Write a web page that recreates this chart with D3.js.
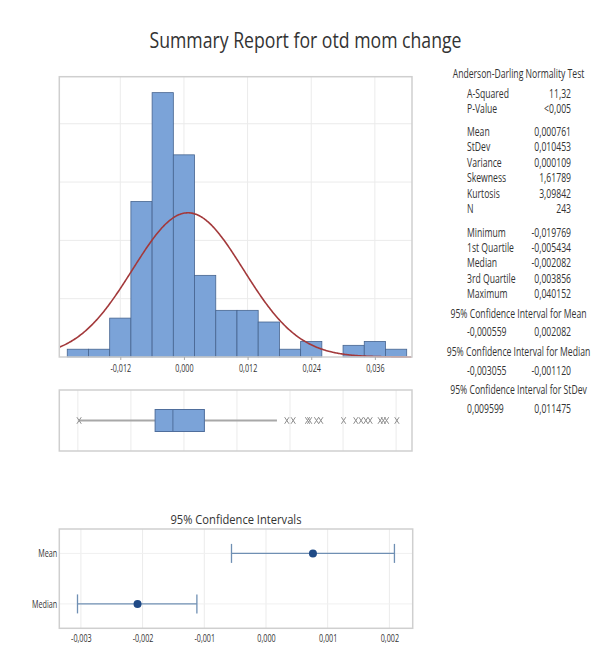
<!DOCTYPE html>
<html><head><meta charset="utf-8">
<script src="https://cdn.jsdelivr.net/npm/d3@7"></script>
<style>body{margin:0;background:#fff;} svg{display:block;font-family:"Open Sans",sans-serif;}</style>
</head><body><svg id="c" width="606" height="657"></svg>
<script>
// ---------- data ----------
const binLower = [-0.022,-0.018,-0.014,-0.010,-0.006,-0.002,0.002,0.006,0.010,0.014,0.018,0.022,0.026,0.030,0.034,0.038];
const binCounts = [2,2,10,40,68,52,21,12,12,9,2,4,0,3,4,2];
const histTicks = [-0.012,0,0.012,0.024,0.036];
const histGridCounts = [15,30,45,60];
const fitMean = 0.000761, fitStDev = 0.010453, sampleN = 243;
const boxFive = [-0.019769,-0.005434,-0.002082,0.003856,0.01754]; // low whisker, Q1, median, Q3, high whisker
const outliers = [0.0194,0.0206,0.0233,0.0237,0.0250,0.0258,0.0301,0.0324,0.0334,0.0343,0.0351,0.0370,0.0376,0.0382,0.040152];
const boxGrid = [-0.02,-0.01,0,0.01,0.02,0.03,0.04];
const ciCategories = ["Mean","Median"];
const ciEst = [0.000761,-0.002082];
const ciLow = [-0.000559,-0.003055];
const ciHigh = [0.002082,-0.001120];
const ciTicks = [-0.003,-0.002,-0.001,0,0.001,0.002];
const adLabels = ["A-Squared","P-Value"], adValues = ["11,32","<0,005"];
const momentLabels = ["Mean","StDev","Variance","Skewness","Kurtosis","N"];
const momentValues = ["0,000761","0,010453","0,000109","1,61789","3,09842","243"];
const quantLabels = ["Minimum","1st Quartile","Median","3rd Quartile","Maximum"];
const quantValues = ["-0,019769","-0,005434","-0,002082","0,003856","0,040152"];
const ciHeaders = ["95% Confidence Interval for Mean","95% Confidence Interval for Median","95% Confidence Interval for StDev"];
const ciTableLow = ["-0,000559","-0,003055","0,009599"];
const ciTableHigh = ["0,002082","-0,001120","0,011475"];

// ---------- setup ----------
const svg = d3.select("#c");
const loc = d3.formatLocale({decimal:",",thousands:".",grouping:[3],currency:["","€"],minus:"-"});
const f3 = loc.format(".3f");
const TXT = "#333";
const GRID = "#ebebeb", FRAME = "#cfcfcf";
const SX = 0.72; // horizontal compression of the small text

svg.append("text").attr("x",305.5).attr("y",47.7).attr("text-anchor","middle")
  .attr("font-size",22).attr("fill",TXT).attr("textLength",312).attr("lengthAdjust","spacingAndGlyphs")
  .text("Summary Report for otd mom change");

// ---------- histogram ----------
const H = {l:59.3,r:412,t:76.7,b:357};
const xH = d3.scaleLinear().domain([-0.0235,0.0430]).range([H.l,H.r]);
const yH = d3.scaleLinear().domain([0,72.1]).range([H.b,H.t]);
const binW = binLower[1]-binLower[0];
const gH = svg.append("g");
gH.selectAll(".hg").data(histGridCounts).enter().append("line")
  .attr("x1",H.l).attr("x2",H.r).attr("y1",d=>yH(d)).attr("y2",d=>yH(d)).attr("stroke",GRID);
gH.selectAll(".vg").data(histTicks).enter().append("line")
  .attr("x1",d=>xH(d)).attr("x2",d=>xH(d)).attr("y1",H.t).attr("y2",H.b).attr("stroke",GRID);
gH.selectAll("rect.bar").data(binLower).enter().append("rect").attr("class","bar")
  .attr("x",d=>xH(d)).attr("width",d=>xH(d+binW)-xH(d))
  .attr("y",(d,i)=>yH(binCounts[i])).attr("height",(d,i)=>yH(0)-yH(binCounts[i]))
  .attr("fill","#7ba3d8").attr("stroke","#46648f").attr("stroke-width",0.8);
const pdf = x => Math.exp(-0.5*Math.pow((x-fitMean)/fitStDev,2))/(fitStDev*Math.sqrt(2*Math.PI));
const curveX = d3.range(xH.domain()[0], xH.domain()[1], 0.0002);
gH.append("path").datum(curveX)
  .attr("d", d3.line().x(d=>xH(d)).y(d=>yH(sampleN*binW*pdf(d))).curve(d3.curveBasis))
  .attr("fill","none").attr("stroke","#a3393b").attr("stroke-width",1.6);
gH.append("rect").attr("x",H.l).attr("y",H.t).attr("width",H.r-H.l).attr("height",H.b-H.t)
  .attr("fill","none").attr("stroke",FRAME).attr("stroke-width",1.5);
const axH = gH.append("g").attr("transform",`translate(0,${H.b})`)
  .call(d3.axisBottom(xH).tickValues(histTicks).tickFormat(f3).tickSize(3).tickPadding(5));
axH.select(".domain").remove();
axH.selectAll("line").attr("stroke","#aaa");
axH.selectAll("text").attr("font-size",10).attr("fill",TXT).attr("font-family","Open Sans").attr("transform",`scale(${SX},1)`);

// ---------- boxplot ----------
const B = {t:390,b:451};
const yB = (B.t+B.b)/2;
const gB = svg.append("g");
gB.selectAll("line.bg").data(boxGrid).enter().append("line")
  .attr("x1",d=>xH(d)).attr("x2",d=>xH(d)).attr("y1",B.t).attr("y2",B.b).attr("stroke",GRID);
gB.append("line").attr("x1",xH(boxFive[0])).attr("x2",xH(boxFive[1])).attr("y1",yB).attr("y2",yB).attr("stroke","#a8a8a8").attr("stroke-width",2);
gB.append("line").attr("x1",xH(boxFive[3])).attr("x2",xH(boxFive[4])).attr("y1",yB).attr("y2",yB).attr("stroke","#a8a8a8").attr("stroke-width",2);
gB.append("rect").attr("x",xH(boxFive[1])).attr("width",xH(boxFive[3])-xH(boxFive[1]))
  .attr("y",yB-11).attr("height",22).attr("fill","#7ba3d8").attr("stroke","#4f6e9c").attr("stroke-width",1);
gB.append("line").attr("x1",xH(boxFive[2])).attr("x2",xH(boxFive[2])).attr("y1",yB-11).attr("y2",yB+11).attr("stroke","#4f6e9c");
const xMark = "M-2.2,-3.3L2.2,3.3M-2.2,3.3L2.2,-3.3";
gB.selectAll("path.o").data([boxFive[0]].concat(outliers)).enter().append("path")
  .attr("d",xMark).attr("transform",d=>`translate(${xH(d)},${yB})`).attr("stroke","#8f8f8f").attr("stroke-width",1).attr("fill","none");
gB.append("rect").attr("x",H.l).attr("y",B.t).attr("width",H.r-H.l).attr("height",B.b-B.t)
  .attr("fill","none").attr("stroke",FRAME).attr("stroke-width",1.5);

// ---------- confidence intervals ----------
const C = {l:59.3,r:412.7,t:529,b:628.3};
const xC = d3.scaleLinear().domain([-0.00335,0.002378]).range([C.l,C.r]);
const yC = d3.scalePoint().domain(ciCategories).range([C.t,C.b]).padding(0.483);
const gC = svg.append("g");
gC.append("text").attr("x",(C.l+C.r)/2).attr("y",524).attr("text-anchor","middle").attr("font-size",13)
  .attr("fill",TXT).attr("textLength",131).attr("lengthAdjust","spacingAndGlyphs").text("95% Confidence Intervals");
gC.selectAll("line.cv").data(ciTicks).enter().append("line")
  .attr("x1",d=>xC(d)).attr("x2",d=>xC(d)).attr("y1",C.t).attr("y2",C.b).attr("stroke",GRID);
gC.selectAll("line.ch").data(ciCategories).enter().append("line")
  .attr("x1",C.l).attr("x2",C.r).attr("y1",d=>yC(d)).attr("y2",d=>yC(d)).attr("stroke","#f0f0f0");
const ciG = gC.selectAll("g.ci").data(ciCategories).enter().append("g").attr("transform",d=>`translate(0,${yC(d)})`);
ciG.append("line").attr("x1",(d,i)=>xC(ciLow[i])).attr("x2",(d,i)=>xC(ciHigh[i])).attr("stroke","#6f8fb3").attr("stroke-width",1.3);
ciG.append("line").attr("x1",(d,i)=>xC(ciLow[i])).attr("x2",(d,i)=>xC(ciLow[i])).attr("y1",-9.5).attr("y2",9.5).attr("stroke","#6f8fb3").attr("stroke-width",1.3);
ciG.append("line").attr("x1",(d,i)=>xC(ciHigh[i])).attr("x2",(d,i)=>xC(ciHigh[i])).attr("y1",-9.5).attr("y2",9.5).attr("stroke","#6f8fb3").attr("stroke-width",1.3);
ciG.append("circle").attr("cx",(d,i)=>xC(ciEst[i])).attr("r",4).attr("fill","#1f4a86");
gC.append("rect").attr("x",C.l).attr("y",C.t).attr("width",C.r-C.l).attr("height",C.b-C.t)
  .attr("fill","none").attr("stroke",FRAME).attr("stroke-width",1.5);
const axC = gC.append("g").attr("transform",`translate(0,${C.b})`)
  .call(d3.axisBottom(xC).tickValues(ciTicks).tickFormat(f3).tickSize(0).tickPadding(7));
axC.select(".domain").remove();
axC.selectAll("text").attr("font-size",10).attr("fill",TXT).attr("font-family","Open Sans").attr("transform",`scale(${SX},1)`);
const ayC = gC.append("g").attr("transform",`translate(${C.l},0)`)
  .call(d3.axisLeft(yC).tickSize(0).tickPadding(3));
ayC.select(".domain").remove();
ayC.selectAll("text").attr("font-size",10).attr("fill",TXT).attr("font-family","Open Sans").attr("transform",`scale(${SX},1)`);

// ---------- statistics table ----------
const gT = svg.append("g").attr("fill",TXT).attr("font-size",12);
const tx = (x,y,s,anchor) => gT.append("text").attr("transform",`translate(${x},${y}) scale(${SX},1)`)
  .attr("dy","0.35em").attr("text-anchor",anchor).text(s);
const LX = 467, RX = 571, CX = 518.5;
tx(CX,74,"Anderson-Darling Normality Test","middle");
adLabels.forEach((s,i)=>{ tx(LX,93.3+i*15.7,s,"start"); tx(RX,93.3+i*15.7,adValues[i],"end"); });
momentLabels.forEach((s,i)=>{ tx(LX,131.7+i*15.4,s,"start"); tx(RX,131.7+i*15.4,momentValues[i],"end"); });
quantLabels.forEach((s,i)=>{ tx(LX,232.3+i*15.4,s,"start"); tx(RX,232.3+i*15.4,quantValues[i],"end"); });
ciHeaders.forEach((s,i)=>{ const y=313.3+i*38.35; tx(CX,y,s,"middle"); tx(LX,y+18.7,ciTableLow[i],"start"); tx(RX,y+18.7,ciTableHigh[i],"end"); });
</script></body></html>
